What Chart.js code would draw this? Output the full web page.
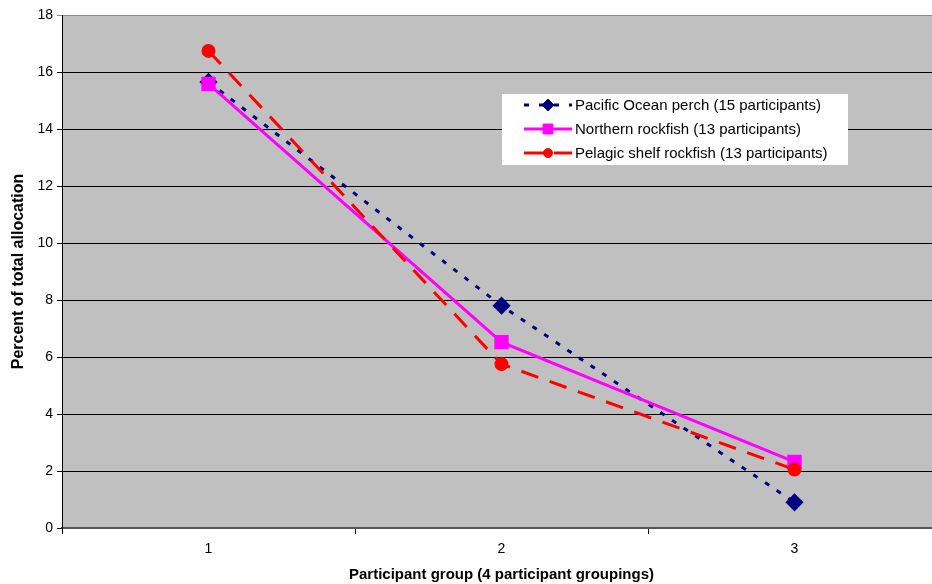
<!DOCTYPE html>
<html>
<head>
<meta charset="utf-8">
<script src="https://cdn.jsdelivr.net/npm/chart.js@4"></script>
<style>
  html, body { margin: 0; padding: 0; background: #fff; overflow: hidden; }
  #wrap { width: 932px; height: 584px; overflow: hidden; }
</style>
</head>
<body>
<div id="wrap"><canvas id="myChart" width="941" height="584"></canvas></div>
<script>
let groups = ["1", "2", "3"];
let pacificPerch = [15.65, 7.8, 0.9];
let northernRockfish = [15.58, 6.52, 2.32];
let pelagicShelf = [16.74, 5.75, 2.05];
let seriesNames = [
  "Pacific Ocean perch (15 participants)",
  "Northern rockfish (13 participants)",
  "Pelagic shelf rockfish (13 participants)"
];

let fontFamily = "'Liberation Sans', Arial, sans-serif";

// gray plot background
let plotBackground = {
  id: "plotBackground",
  beforeDraw: (chart) => {
    let a = chart.chartArea;
    let ctx = chart.ctx;
    ctx.save();
    ctx.fillStyle = "#c0c0c0";
    ctx.fillRect(a.left, a.top, a.right - a.left, a.bottom - a.top);
    ctx.restore();
  }
};

// legend box inside the plot, like the original
let innerLegend = {
  id: "innerLegend",
  afterDraw: (chart) => {
    let ctx = chart.ctx;
    let x = 502, y = 94, w = 346, h = 71;
    ctx.save();
    ctx.fillStyle = "#ffffff";
    ctx.fillRect(x, y, w, h);
    ctx.font = "15px " + fontFamily;
    ctx.textBaseline = "middle";
    chart.data.datasets.forEach((ds, i) => {
      let cy = y + 11 + i * 24;
      ctx.strokeStyle = ds.borderColor;
      ctx.lineWidth = ds.borderWidth;
      ctx.setLineDash(ds.legendDash || ds.borderDash || []);
      ctx.beginPath();
      ctx.moveTo(x + 22, cy);
      ctx.lineTo(x + 70, cy);
      ctx.stroke();
      ctx.setLineDash([]);
      ctx.fillStyle = ds.pointBackgroundColor;
      ctx.strokeStyle = ds.pointBorderColor;
      ctx.lineWidth = 1;
      Chart.helpers.drawPoint(ctx, {
        pointStyle: ds.pointStyle,
        radius: ds.pointRadius - 1,
        rotation: 0,
        borderWidth: 1
      }, x + 46, cy);
      ctx.fillStyle = "#000";
      ctx.fillText(ds.label, x + 73, cy + 1);
    });
    ctx.restore();
  }
};

let ctx = document.getElementById("myChart").getContext("2d");
let chart = new Chart(ctx, {
  type: "line",
  data: {
    labels: groups,
    datasets: [
      {
        label: seriesNames[0],
        data: pacificPerch,
        order: 3,
        borderColor: "#000080",
        backgroundColor: "#000080",
        borderWidth: 3,
        borderDash: [5, 9],
        legendDash: [5, 10],
        pointStyle: "rectRot",
        pointRadius: 7,
        pointHoverRadius: 7,
        pointBorderColor: "#000080",
        pointBackgroundColor: "#000080"
      },
      {
        label: seriesNames[1],
        data: northernRockfish,
        order: 2,
        borderColor: "#ff00ff",
        backgroundColor: "#ff00ff",
        borderWidth: 3,
        pointStyle: "rect",
        pointRadius: 8,
        pointHoverRadius: 8,
        pointBorderColor: "#ff00ff",
        pointBackgroundColor: "#ff00ff"
      },
      {
        label: seriesNames[2],
        data: pelagicShelf,
        order: 1,
        borderColor: "#ff0000",
        backgroundColor: "#ff0000",
        borderWidth: 3,
        borderDash: [18, 12],
        legendDash: [22, 8],
        pointStyle: "circle",
        pointRadius: 5.5,
        pointHoverRadius: 5.5,
        pointBorderColor: "#ff0000",
        pointBackgroundColor: "#ff0000"
      }
    ]
  },
  options: {
    responsive: false,
    animation: false,
    layout: { autoPadding: false, padding: { top: 15, right: 0, left: 0, bottom: 0 } },
    plugins: {
      legend: { display: false },
      tooltip: { enabled: false }
    },
    scales: {
      x: {
        offset: true,
        grid: {
          offset: true,
          drawOnChartArea: false,
          color: "#000",
          tickLength: 6
        },
        border: { color: "#555", width: 2 },
        ticks: {
          color: "#000",
          padding: 7,
          font: { family: fontFamily, size: 14 }
        },
        title: {
          display: true,
          text: "Participant group (4 participant groupings)",
          color: "#000",
          padding: { top: 6, bottom: 0 },
          font: { family: fontFamily, size: 15, weight: "bold" }
        },
        afterFit: (scale) => { scale.height = 56; scale.paddingRight = 0; }
      },
      y: {
        min: 0,
        max: 18,
        ticks: {
          stepSize: 2,
          color: "#000",
          padding: 4,
          font: { family: fontFamily, size: 14 }
        },
        grid: {
          color: (c) => (c.tick && c.tick.value === 18 ? "#8a8a8a" : "#000"),
          lineWidth: 1,
          tickLength: 5
        },
        border: { color: "#000", width: 1 },
        title: {
          display: true,
          text: "Percent of total allocation",
          color: "#000",
          padding: { top: 9, bottom: 6 },
          font: { family: fontFamily, size: 16, weight: "bold" }
        },
        afterFit: (scale) => { scale.width = 62; }
      }
    }
  },
  plugins: [plotBackground, innerLegend]
});
</script>
</body>
</html>
